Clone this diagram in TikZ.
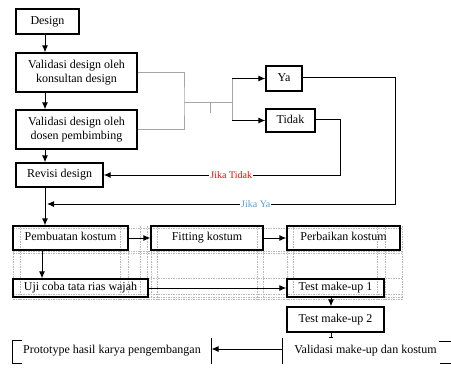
\documentclass[tikz,border=0pt]{standalone}
\usepackage{fontspec}
\setmainfont{Liberation Serif}
\usetikzlibrary{arrows.meta}
\definecolor{birumuda}{RGB}{91,155,213}

\begin{document}
\begin{tikzpicture}[x=1pt, y=-1pt, >={Latex[length=7pt,width=6pt]}, line width=1pt,
  kotak/.style={draw, line width=1.3pt, inner sep=0pt, align=center, font=\fontsize{12}{14}\selectfont},
  sel/.style={inner sep=0pt, align=center, font=\fontsize{12}{14}\selectfont},
  ket/.style={fill=white, inner sep=1pt, font=\fontsize{10}{12}\selectfont},
  grid/.style={gray!55, line width=0.4pt, dash pattern=on 1.5pt off 1pt},
  abu/.style={gray!70, line width=1pt}]

\useasboundingbox (0,0) rectangle (451,368);

% Garis bantu tabel (putus-putus)
\foreach \gx in {13,20,120,128,140,147,151,157,257,263,287,293,377,385,402}
  \draw[grid] (\gx,226) -- (\gx,299);
\foreach \gy in {228,251,253,278,294,297,299}
  \draw[grid] (13,\gy) -- (402,\gy);

% Alur validasi design
\node[kotak, minimum width=63pt, minimum height=25pt] (design) at (47.5,21.5) {\strut Design};
\node[kotak, minimum width=121pt, minimum height=39pt] (val1) at (76.5,72.5) {Validasi design oleh\\konsultan design};
\node[kotak, minimum width=121pt, minimum height=39pt] (val2) at (76.5,129.5) {Validasi design oleh\\dosen pembimbing};
\node[kotak, minimum width=87pt, minimum height=24pt] (revisi) at (59.5,175) {\strut Revisi design};
\node[kotak, minimum width=36pt, minimum height=25pt] (ya) at (284,78.5) {\strut Ya};
\node[kotak, minimum width=49pt, minimum height=23pt] (tidak) at (290.5,120.5) {\strut Tidak};

\draw[->] (design.south -| 45,0) -- (val1.north -| 45,0);
\draw[->] (val1.south -| 45,0) -- (val2.north -| 45,0);
\draw[->] (val2.south -| 45,0) -- (revisi.north -| 45,0);

% Kurung abu-abu ke Ya / Tidak
\coordinate (cabang) at (184,102);
\coordinate (pisah) at (232,102);
\draw[abu] (val1.east) -| (cabang) |- (val2.east);
\draw[abu] (cabang) -- (pisah);
\draw[abu] (210,102) -- (210,113);
\draw[abu] (pisah |- ya.west) -- (pisah |- tidak.west);
\draw[->] (pisah |- ya.west) -- (ya.west);
\draw[->] (pisah |- tidak.west) -- (tidak.west);

% Umpan balik
\coordinate (tidakbelok) at (340,119);
\coordinate (yabelok) at (395,77);
\coordinate (yamasuk) at (47,204);
\draw[->] (tidak.east |- tidakbelok) -- (tidakbelok) |- (revisi.east)
  node[ket, text=red, pos=0.73] (jikatidak) {Jika Tidak};
\draw[->] (ya.east |- yabelok) -- (yabelok) |- (yamasuk)
  node[ket, text=birumuda, pos=0.70] (jikaya) {Jika Ya};

% Tabel pembuatan kostum
\node[kotak, minimum width=115pt, minimum height=24pt] (buat) at (70.5,238) {\strut Pembuatan kostum};
\node[kotak, minimum width=112pt, minimum height=24pt] (fitting) at (207,238) {\strut Fitting kostum};
\node[kotak, minimum width=113pt, minimum height=24pt] (perbaikan) at (343.5,238) {\strut Perbaikan kostum};
\node[kotak, minimum width=135pt, minimum height=18pt] (uji) at (80.5,288) {\strut Uji coba tata rias wajah};
\node[kotak, minimum width=97pt, minimum height=18pt] (test1) at (335.5,288) {\strut Test make-up 1};
\node[kotak, minimum width=97pt, minimum height=25pt] (test2) at (335.5,319.5) {\strut Test make-up 2};

\draw[->] (revisi.south -| 45,0) -- (buat.north -| 45,0);
\draw[->] (buat.east) -- (fitting.west);
\draw[->] (fitting.east) -- (perbaikan.west);
\draw[->] (buat.south -| 42,0) -- (uji.north -| 42,0);
\draw[->] (uji.east) -- (test1.west);
\draw[->] (test1.south -| 331,0) -- (test2.north -| 331,0);
\draw[-{Bar[width=4pt]}] (test2.south -| 331,0) -- ++(0,5);

% Baris akhir
\node[sel, minimum width=198pt, minimum height=25pt] (proto) at (112,350.5) {\raisebox{-4pt}{Prototype hasil karya pengembangan}};
\node[sel, minimum width=165pt, minimum height=25pt] (valakhir) at (365.5,350.5) {\raisebox{-4pt}{Validasi make-up dan kostum}};
\draw ([xshift=9pt, yshift=-3pt]proto.north west) -- ([yshift=-3pt]proto.north west) -- (proto.south west) -- ++(9,0);
\draw (proto.north east) -- (proto.south east);
\draw (valakhir.north west) -- (valakhir.south west);
\draw[->] ([yshift=1.5pt]valakhir.west) -- ([yshift=1.5pt]proto.east);
\draw (439,341) -- (451,341);
\draw (440,363) -- (451,363);

\end{tikzpicture}
\end{document}
